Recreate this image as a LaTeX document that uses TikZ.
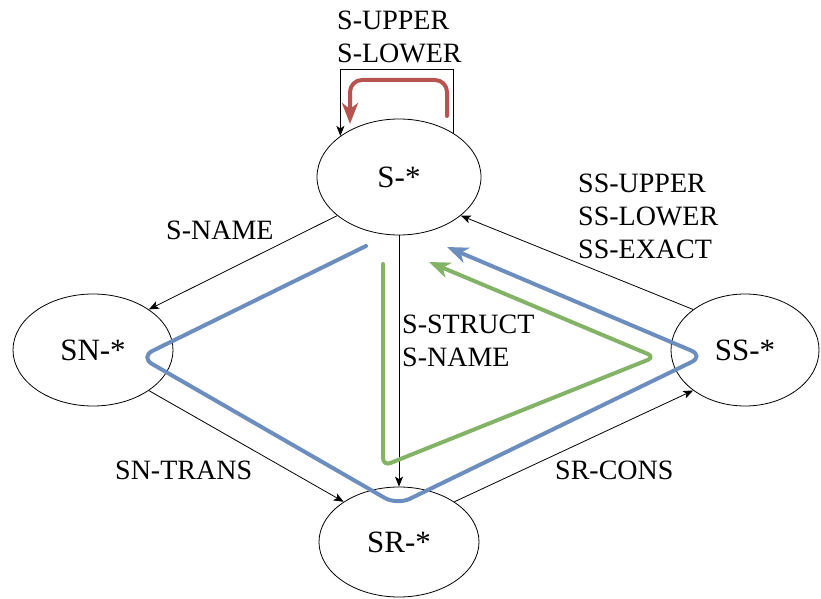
\documentclass[tikz,border=0pt]{standalone}
\usepackage{fontspec}
\setmainfont{Liberation Serif}
\usetikzlibrary{shapes.geometric,arrows.meta}
\definecolor{flowblue}{HTML}{6C8EBF}
\definecolor{flowgreen}{HTML}{82B366}
\definecolor{flowred}{HTML}{B85450}
\tikzset{
  state/.style={ellipse,draw,line width=0.8pt,inner sep=0pt,
    font=\fontsize{31}{36}\selectfont},
  edgelabel/.style={inner sep=0pt,anchor=west,align=left,
    font=\fontsize{28}{33}\selectfont},
  trans/.style={line width=0.8pt,-{Stealth[length=10pt,width=8pt,inset=2.5pt]}},
  trace/.style={line width=4pt,line cap=round,line join=round,
    -{Stealth[length=21pt,width=16pt,inset=6pt]}},
}
\begin{document}
\begin{tikzpicture}[x=1pt,y=-1pt]
\useasboundingbox (0,0) rectangle (821,599);

% states
\node[state,minimum width=164pt,minimum height=116pt] (S)  at (399,177) {S-*};
\node[state,minimum width=160pt,minimum height=112pt] (SN) at (93,350)  {SN-*};
\node[state,minimum width=148pt,minimum height=112pt] (SS) at (745,350) {SS-*};
\node[state,minimum width=160pt,minimum height=110pt] (SR) at (399,542) {SR-*};

% transitions
\draw[trans] (S.39) -- ++(0,-64) -| (S.145);
\draw[trans] (S.212) -- (SN.36);
\draw[trans] (S.south) -- (SR.north);
\draw[trans] (SS.142) -- (S.328);
\draw[trans] (SN.324) -- (SR.144);
\draw[trans] (SR.36) -- (SS.218);

% transition labels
\node[edgelabel] (lup)  at (337,37)  {S-UPPER\\S-LOWER};
\node[edgelabel] (lsn)  at (166,230) {S-NAME};
\node[edgelabel] (lst)  at (402,341) {S-STRUCT\\S-NAME};
\node[edgelabel] (lss)  at (578,216) {SS-UPPER\\SS-LOWER\\SS-EXACT};
\node[edgelabel] (ltr)  at (115,470) {SN-TRANS};
\node[edgelabel] (lcn)  at (555,470) {SR-CONS};

% traces
\draw[trace,flowred,rounded corners=12pt]
  (447,116) -- (447,80) -- (350,80) -- (350,124);
\draw[trace,flowblue,rounded corners=14pt]
  (366,246) -- (140,357) -- (397,505) -- (704,356) -- (447,247);
\draw[trace,flowgreen,rounded corners=8pt]
  (383,264) -- (383,466) -- (655,357) -- (429,262);
\end{tikzpicture}
\end{document}
